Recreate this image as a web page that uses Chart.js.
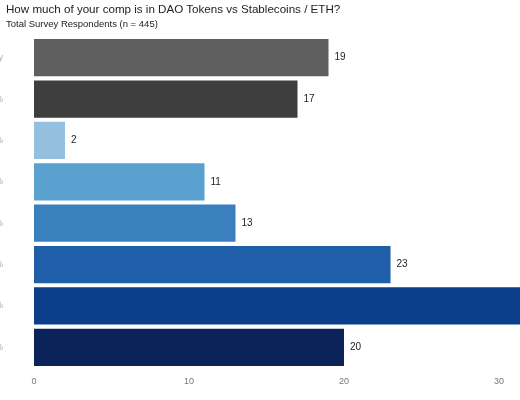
<!DOCTYPE html>
<html>
<head>
<meta charset="utf-8">
<script src="https://cdn.jsdelivr.net/npm/chart.js@4"></script>
<style>
  body { margin: 0; width: 520px; height: 400px; overflow: hidden; position: relative; background: #fff; font-family: "Liberation Sans", Arial, sans-serif; }
  #title { position: absolute; left: 6px; top: 2px; font-size: 11.6px; color: #222; white-space: nowrap; z-index: 2; }
  #subtitle { position: absolute; left: 6px; top: 18px; font-size: 9.5px; color: #222; white-space: nowrap; z-index: 2; }
  #wrap { position: absolute; left: -116px; top: 0; width: 780px; height: 400px; }
</style>
</head>
<body>
<div id="title">How much of your comp is in DAO Tokens vs Stablecoins / ETH?</div>
<div id="subtitle">Total Survey Respondents (n = 445)</div>
<div id="wrap"><canvas id="chart"></canvas></div>
<script>
// Réponses (le haut du graphique en premier)
const categories = ['Fiat only', '0%', '1-10%', '11-25%', '26-50%', '51-75%', '76-99%', '100%'];
const respondents = [19, 17, 2, 11, 13, 23, 35, 20];
const barColors = ['#5f5f5f', '#3e3e3e', '#93c0de', '#5ba1d0', '#3a80bf', '#1f5fa9', '#0c3f8b', '#0b2358'];
const xTicks = [0, 10, 20, 30, 40];

// Étiquettes de valeur au bout des barres
const valueLabels = {
    id: 'valueLabels',
    afterDatasetsDraw(chart) {
        const ctx = chart.ctx;
        const meta = chart.getDatasetMeta(0);
        ctx.save();
        ctx.font = '10px "Liberation Sans", Arial, sans-serif';
        ctx.fillStyle = '#222';
        ctx.textBaseline = 'middle';
        meta.data.forEach((bar, i) => {
            ctx.fillText(respondents[i], bar.x + 6, bar.y);
        });
        ctx.restore();
    }
};

new Chart(document.getElementById('chart'), {
    type: 'bar',
    data: {
        labels: categories,
        datasets: [{
            data: respondents,
            backgroundColor: barColors,
            barPercentage: 0.9,
            categoryPercentage: 1.0
        }]
    },
    options: {
        indexAxis: 'y',
        responsive: true,
        maintainAspectRatio: false,
        animation: false,
        layout: { padding: { top: 37, bottom: 0, right: 10, left: 0 } },
        plugins: {
            legend: { display: false },
            tooltip: { enabled: false }
        },
        scales: {
            x: {
                min: 0,
                max: 40,
                grid: { display: false },
                border: { display: false },
                afterBuildTicks: (axis) => { axis.ticks = xTicks.map(v => ({ value: v })); },
                afterFit: (axis) => { axis.height = 32; },
                ticks: { color: '#777', font: { size: 9, family: '"Liberation Sans", Arial, sans-serif' }, padding: 0 }
            },
            y: {
                grid: { display: false },
                border: { display: false },
                afterFit: (axis) => { axis.width = 150; },
                ticks: { color: '#aaa', font: { size: 9, family: '"Liberation Sans", Arial, sans-serif' }, padding: 23 }
            }
        }
    },
    plugins: [valueLabels]
});
</script>
</body>
</html>
